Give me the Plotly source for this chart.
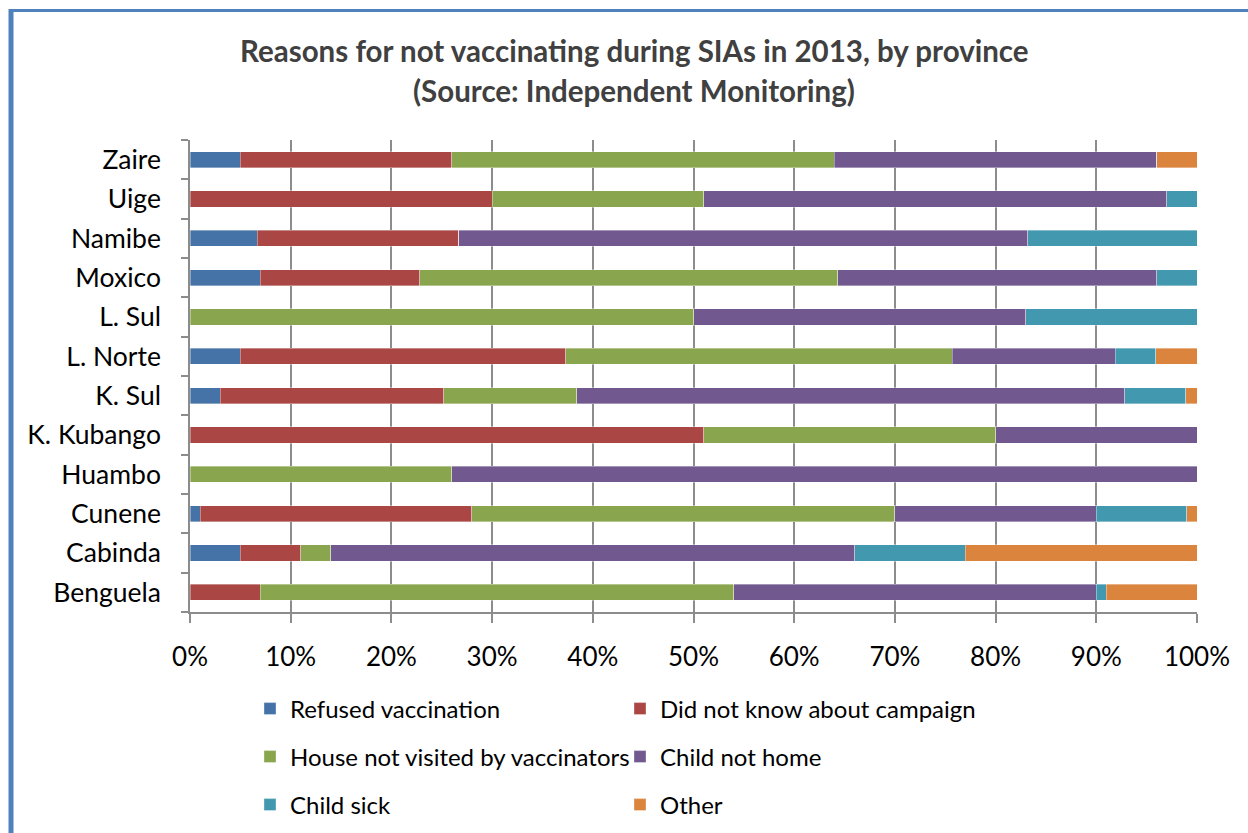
import plotly.graph_objects as go

provinces = ["Benguela", "Cabinda", "Cunene", "Huambo", "K. Kubango", "K. Sul",
             "L. Norte", "L. Sul", "Moxico", "Namibe", "Uige", "Zaire"]

refused      = [0, 5, 1, 0, 0, 3, 5, 0, 7, 6.7, 0, 5]
did_not_know = [7, 6, 27, 0, 51, 22.2, 32.3, 0, 15.8, 20, 30, 21]
not_visited  = [47, 3, 42, 26, 29, 13.2, 38.4, 50, 41.5, 0, 21, 38]
not_home     = [36, 52, 20, 74, 20, 54.4, 16.2, 33, 31.7, 56.5, 46, 32]
child_sick   = [1, 11, 9, 0, 0, 6.1, 4, 17, 4, 16.8, 3, 0]
other        = [9, 23, 1, 0, 0, 1.1, 4.1, 0, 0, 0, 0, 4]

series_names = ["Refused vaccination", "Did not know about campaign",
                "House not visited by vaccinators", "Child not home",
                "Child sick", "Other"]
series_values = [refused, did_not_know, not_visited, not_home, child_sick, other]
colors = ["#4572A7", "#AA4643", "#89A54E", "#71588F", "#4198AF", "#DB843D"]
legend_ids = ["legend", "legend", "legend2", "legend2", "legend3", "legend3"]

x_ticks = list(range(0, 101, 10))
x_tick_labels = [f"{v}%" for v in x_ticks]

FONT = "Lato"

fig = go.Figure()
for name, vals, col, lg in zip(series_names, series_values, colors, legend_ids):
    fig.add_trace(go.Bar(
        y=provinces, x=vals, name=name, orientation="h",
        marker=dict(color=col, line=dict(color="rgba(255,255,255,0.45)", width=0.8)),
        legend=lg,
    ))

W, H = 1248, 833
L, R, T, B = 190, 1197, 140, 612
pw, ph = R - L, B - T


def px(x):
    return (x - L) / pw


def py(y):
    return (B - y) / ph


leg_common = dict(orientation="h", entrywidth=325, entrywidthmode="pixels",
                  traceorder="normal",
                  font=dict(family=FONT, size=24, color="#000000"),
                  xanchor="left", yanchor="middle", bgcolor="rgba(0,0,0,0)",
                  itemclick=False, itemdoubleclick=False)

fig.update_layout(
    width=W, height=H,
    barmode="stack", bargap=0.59,
    margin=dict(l=L, r=W - R, t=T, b=H - B, pad=0, autoexpand=False),
    plot_bgcolor="white", paper_bgcolor="white",
    font=dict(family=FONT, color="#000000"),
    xaxis=dict(range=[0, 100], tickvals=x_ticks, ticktext=x_tick_labels,
               showgrid=True, gridcolor="#8C8C8C", gridwidth=1.5,
               showline=True, linecolor="#8C8C8C", linewidth=1.5,
               ticks="outside", ticklen=9, tickcolor="#8C8C8C", tickwidth=1.5,
               tickfont=dict(family=FONT, size=26, color="#000000"),
               zeroline=False, fixedrange=True, ticklabelstandoff=12),
    yaxis=dict(type="category", showline=True, linecolor="#8C8C8C", linewidth=1.5,
               ticks="outside", tickson="boundaries", ticklen=7,
               tickcolor="#8C8C8C", tickwidth=1.5, showgrid=False,
               tickfont=dict(family=FONT, size=26.5, color="#000000"),
               fixedrange=True, ticklabelstandoff=22),
    showlegend=True,
    legend=dict(x=px(250), y=py(709), **leg_common),
    legend2=dict(x=px(250), y=py(757), **leg_common),
    legend3=dict(x=px(250), y=py(805), **leg_common),
)

title_font = dict(family=FONT, size=29.5, color="#404040")
fig.add_annotation(text="<b>Reasons for not vaccinating during SIAs in 2013, by province</b>",
                   xref="paper", yref="paper", x=px(634), y=py(50),
                   xanchor="center", yanchor="middle", showarrow=False, font=title_font)
fig.add_annotation(text="<b>(Source: Independent Monitoring)</b>",
                   xref="paper", yref="paper", x=px(634), y=py(90),
                   xanchor="center", yanchor="middle", showarrow=False, font=title_font)

# chart-area border (Excel style, blue)
fig.add_shape(type="line", xref="paper", yref="paper",
              x0=px(11), x1=px(11), y0=py(9), y1=py(900),
              line=dict(color="#4F81BD", width=5))
fig.add_shape(type="line", xref="paper", yref="paper",
              x0=px(9), x1=px(1300), y0=py(10.5), y1=py(10.5),
              line=dict(color="#4F81BD", width=3))

fig.write_html("out.html")
